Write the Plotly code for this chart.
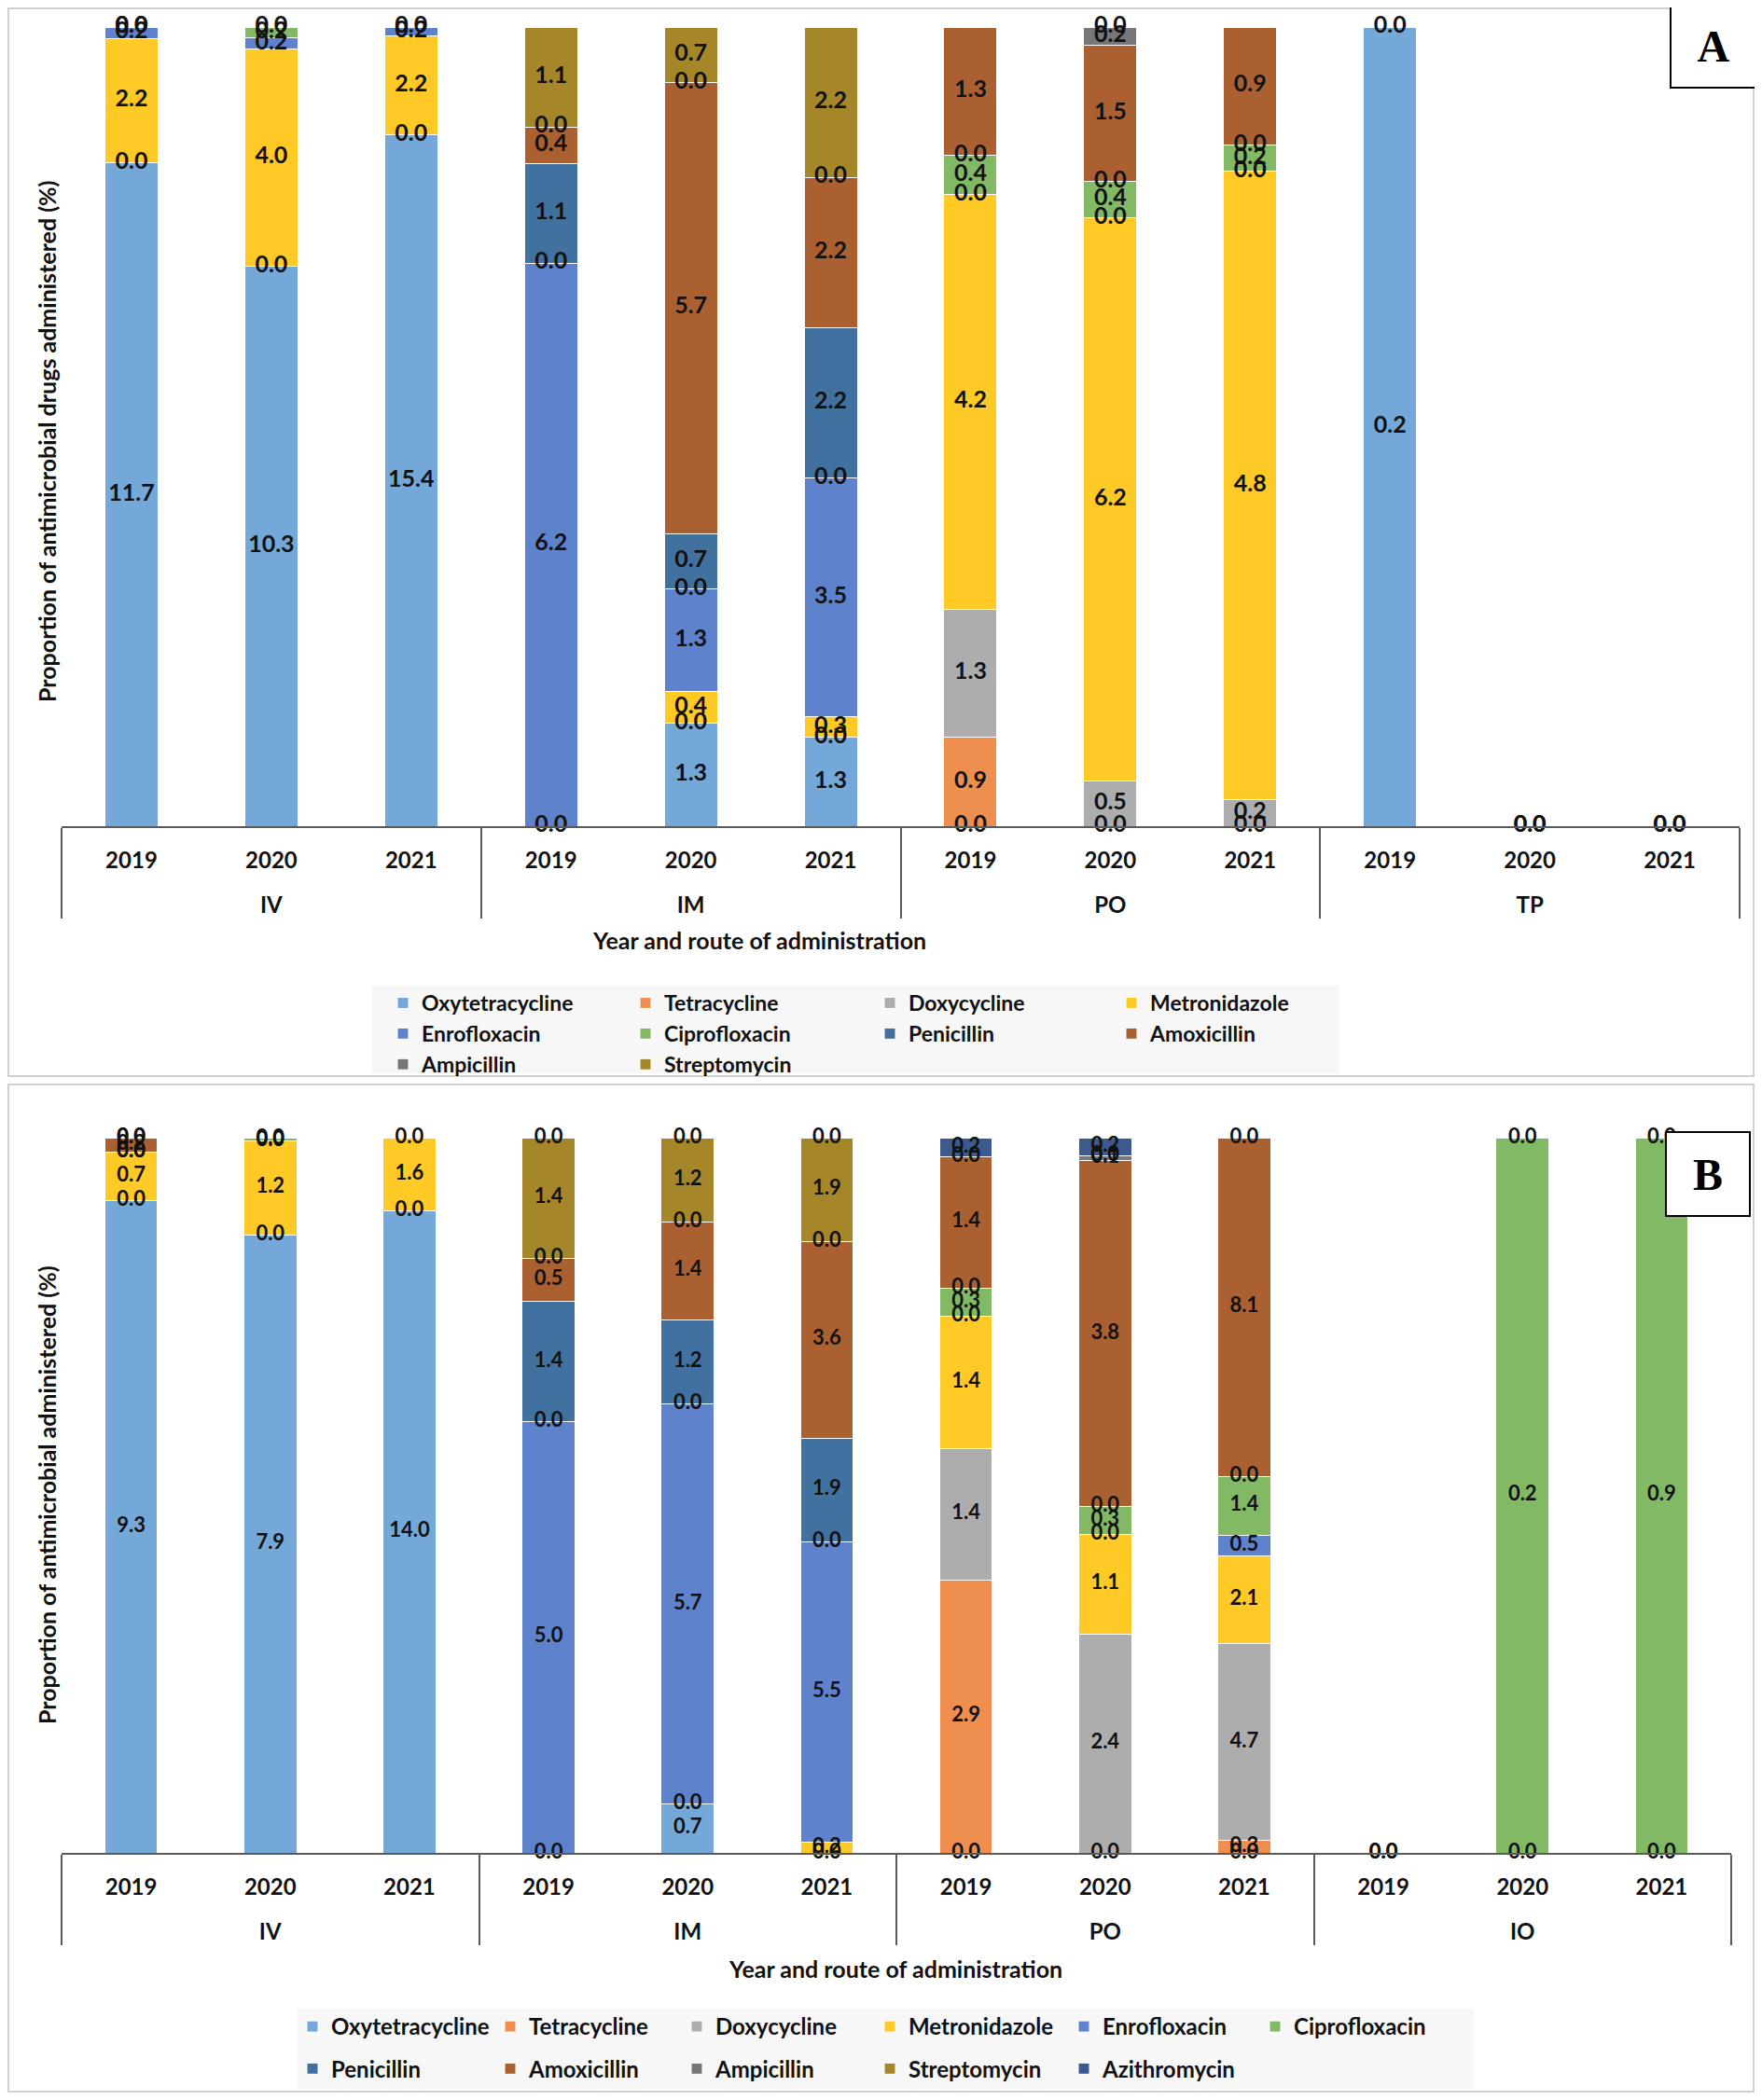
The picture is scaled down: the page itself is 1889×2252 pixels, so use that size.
import plotly.graph_objects as go
from plotly.subplots import make_subplots

# categories (route, year)
ROUTES_A = ["IV"] * 3 + ["IM"] * 3 + ["PO"] * 3 + ["TP"] * 3
ROUTES_B = ["IV"] * 3 + ["IM"] * 3 + ["PO"] * 3 + ["IO"] * 3
YEARS = ["2019", "2020", "2021"] * 4

DRUGS = ["Oxytetracycline", "Tetracycline", "Doxycycline", "Metronidazole",
         "Enrofloxacin", "Ciprofloxacin", "Penicillin", "Amoxicillin",
         "Ampicillin", "Streptomycin", "Azithromycin"]

COLORS = {
    "Oxytetracycline": "#73A8D8",
    "Tetracycline": "#EE8F4F",
    "Doxycycline": "#ADADAD",
    "Metronidazole": "#FFC926",
    "Enrofloxacin": "#5E82CC",
    "Ciprofloxacin": "#82B965",
    "Penicillin": "#41729F",
    "Amoxicillin": "#AB6031",
    "Ampicillin": "#777777",
    "Streptomycin": "#A5872A",
    "Azithromycin": "#3D5A8E",
}

N = None
# Panel A: antimicrobial drugs (%), None = no entry
oxy_a = [11.7, 10.3, 15.4, 0.0, 1.3, 1.3, 0.0, N, N, 0.2, 0.0, 0.0]
tetra_a = [N, N, N, N, N, N, 0.9, 0.0, 0.0, N, 0.0, 0.0]
doxy_a = [0.0, 0.0, 0.0, N, 0.0, 0.0, 1.3, 0.5, 0.2, 0.0, N, N]
metro_a = [2.2, 4.0, 2.2, N, 0.4, 0.3, 4.2, 6.2, 4.8, N, N, N]
enro_a = [0.2, 0.2, 0.2, 6.2, 1.3, 3.5, 0.0, 0.0, 0.0, N, N, N]
cipro_a = [0.0, 0.2, N, 0.0, 0.0, 0.0, 0.4, 0.4, 0.2, N, N, N]
peni_a = [N, N, N, 1.1, 0.7, 2.2, 0.0, 0.0, 0.0, N, N, N]
amox_a = [0.0, 0.0, 0.0, 0.4, 5.7, 2.2, 1.3, 1.5, 0.9, N, N, N]
ampi_a = [N, N, N, 0.0, 0.0, 0.0, 0.0, 0.2, 0.0, N, N, N]
strep_a = [N, N, N, 1.1, 0.7, 2.2, N, 0.0, N, N, N, N]

# Panel B: antimicrobial (%)
oxy_b = [9.3, 7.9, 14.0, 0.0, 0.7, 0.0, 0.0, N, 0.0, 0.0, N, N]
tetra_b = [N, N, N, N, N, N, 2.9, 0.0, 0.3, 0.0, 0.0, 0.0]
doxy_b = [0.0, 0.0, 0.0, N, 0.0, N, 1.4, 2.4, 4.7, N, N, N]
metro_b = [0.7, 1.2, 1.6, N, N, 0.2, 1.4, 1.1, 2.1, N, N, N]
enro_b = [0.0, 0.0, 0.0, 5.0, 5.7, 5.5, 0.0, 0.0, 0.5, N, N, N]
cipro_b = [0.0, 0.04, N, 0.0, 0.0, 0.0, 0.3, 0.3, 1.4, N, 0.2, 0.9]
peni_b = [N, N, N, 1.4, 1.2, 1.9, 0.0, 0.0, 0.0, N, 0.0, 0.0]
amox_b = [0.2, N, N, 0.5, 1.4, 3.6, 1.4, 3.8, 8.1, N, N, N]
ampi_b = [0.0, N, N, 0.0, 0.0, 0.0, 0.0, 0.05, 0.0, N, N, N]
strep_b = [0.0, N, N, 1.4, 1.2, 1.9, N, 0.0, N, N, N, N]
azi_b = [N, N, N, 0.0, 0.0, 0.0, 0.2, 0.2, N, N, N, N]

SERIES_A = [oxy_a, tetra_a, doxy_a, metro_a, enro_a, cipro_a, peni_a,
            amox_a, ampi_a, strep_a]
SERIES_B = [oxy_b, tetra_b, doxy_b, metro_b, enro_b, cipro_b, peni_b,
            amox_b, ampi_b, strep_b, azi_b]

# page is 1889x2252, the html body adds an 8px margin round the figure
PAGE_W, PAGE_H, OFF = 1889, 2252, 8
W, H = PAGE_W - 2 * OFF, PAGE_H - 2 * OFF
FONT = "Lato"


def py(px):
    return min(max(1 - (px - OFF) / H, 0), 1)


def pxx(px):
    return min(max((px - OFF) / W, 0), 1)


def label_positions(series):
    # midpoint of every segment, in percent of its bar
    totals = [sum(v for v in col if v is not None) for col in zip(*series)]
    cum = [0.0] * len(totals)
    out = []
    for vals in series:
        ys = []
        for i, v in enumerate(vals):
            if v is None:
                ys.append(None)
                continue
            t = totals[i]
            ys.append(0.0 if t == 0 else (cum[i] + v / 2) / t * 100)
            cum[i] += v
        out.append(ys)
    return out


fig = make_subplots(rows=2, cols=1)

# legend grid: one vertical legend per column
legend_layout = {}
legend_count = [0]


def make_legend_columns(col_x, top_y, gap, size):
    ids = []
    for cx in col_x:
        legend_count[0] += 1
        lid = "legend" if legend_count[0] == 1 else f"legend{legend_count[0]}"
        legend_layout[lid] = dict(
            x=pxx(cx - 20), y=py(top_y - 21), xanchor="left", yanchor="top",
            bgcolor="rgba(0,0,0,0)", traceorder="grouped",
            font=dict(family=FONT, size=size, color="#111111", weight="bold"),
            tracegroupgap=gap, orientation="v",
        )
        ids.append(lid)
    return ids


def add_panel(series, routes, row, legend_ids, txt_size, tag):
    x = [routes, YEARS]
    ncol = len(legend_ids)
    for i, (name, vals) in enumerate(zip(DRUGS, series)):
        fig.add_trace(
            go.Bar(
                x=x, y=vals, name=name,
                marker=dict(color=COLORS[name], line=dict(color="white", width=1)),
                width=0.38, legend=legend_ids[i % ncol], legendgroup=f"{tag}{i}",
            ),
            row=row, col=1,
        )
    for vals, ys in zip(series, label_positions(series)):
        fig.add_trace(
            go.Scatter(
                x=x, y=ys, mode="text",
                text=["" if v is None else f"{v:.1f}" for v in vals],
                textfont=dict(family=FONT, size=txt_size, color="#111111", weight="bold"),
                showlegend=False, cliponaxis=False, hoverinfo="skip",
            ),
            row=row, col=1,
        )


legends_a = make_legend_columns([432, 692, 954, 1213], 1075, 0, 23)
legends_b = make_legend_columns([335, 547, 747, 954, 1162, 1367], 2172, 11, 24)
add_panel(SERIES_A, ["<br>" + r for r in ROUTES_A], 1, legends_a, 25, "a")
add_panel(SERIES_B, ["<br>" + r for r in ROUTES_B], 2, legends_b, 22, "b")

axis_x = dict(
    type="multicategory", showline=True, linecolor="#595959", linewidth=2,
    showdividers=True, dividercolor="#595959", dividerwidth=2,
    ticks="", showgrid=False, range=[-0.5, 11.5], ticklabelstandoff=14,
    tickfont=dict(family=FONT, size=24, color="#111111", weight="bold"),
)
axis_y = dict(range=[0, 100], showticklabels=False, showgrid=False,
              zeroline=False, showline=False, ticks="")

fig.update_xaxes(axis_x)
fig.update_yaxes(axis_y)
fig.update_xaxes(domain=[pxx(66), pxx(1865)], row=1, col=1)
fig.update_yaxes(domain=[py(886), py(29)], row=1, col=1)
fig.update_xaxes(domain=[pxx(66), pxx(1856)], row=2, col=1)
fig.update_yaxes(domain=[py(1987), py(1220)], row=2, col=1)

ytitle_font = dict(family=FONT, size=25, color="#111111", weight="bold")
xtitle_font = dict(family=FONT, size=25, color="#111111", weight="bold")
annotations = [
    dict(text="Proportion of antimicrobial drugs administered (%)", x=pxx(50), y=py(474),
         textangle=-90, font=ytitle_font),
    dict(text="Proportion of antimicrobial administered (%)", x=pxx(50), y=py(1603),
         textangle=-90, font=ytitle_font),
    dict(text="Year and route of administration", x=pxx(814), y=py(1008), font=xtitle_font),
    dict(text="Year and route of administration", x=pxx(960), y=py(2111), font=xtitle_font),
    dict(text="A", x=pxx(1837), y=py(50), width=90, height=87, borderpad=0,
         bgcolor="white", bordercolor="black", borderwidth=2,
         font=dict(family="Liberation Serif", size=48, color="black", weight="bold")),
    dict(text="B", x=pxx(1831), y=py(1259), width=88, height=88, borderpad=0,
         bgcolor="white", bordercolor="black", borderwidth=2,
         font=dict(family="Liberation Serif", size=48, color="black", weight="bold")),
]
for a in annotations:
    a.update(xref="paper", yref="paper", showarrow=False, xanchor="center", yanchor="middle")

shapes = [
    # panel frames
    dict(type="rect", x0=pxx(9), x1=pxx(1880), y0=py(1154), y1=py(9),
         line=dict(color="#D0D0D0", width=2)),
    dict(type="rect", x0=pxx(9), x1=pxx(1880), y0=py(2243), y1=py(1163),
         line=dict(color="#D0D0D0", width=2)),
    # legend backgrounds
    dict(type="rect", x0=pxx(398), x1=pxx(1436), y0=py(1151), y1=py(1057),
         fillcolor="#F7F7F7", line=dict(width=0), layer="below"),
    dict(type="rect", x0=pxx(319), x1=pxx(1580), y0=py(2240), y1=py(2154),
         fillcolor="#F7F7F7", line=dict(width=0), layer="below"),
]
for s in shapes:
    s.update(xref="paper", yref="paper")

fig.update_layout(
    width=W, height=H,
    margin=dict(l=0, r=0, t=0, b=0, autoexpand=False),
    paper_bgcolor="white", plot_bgcolor="white",
    barmode="stack", barnorm="percent",
    annotations=annotations, shapes=shapes,
    **legend_layout,
)

fig.write_html("out.html")
